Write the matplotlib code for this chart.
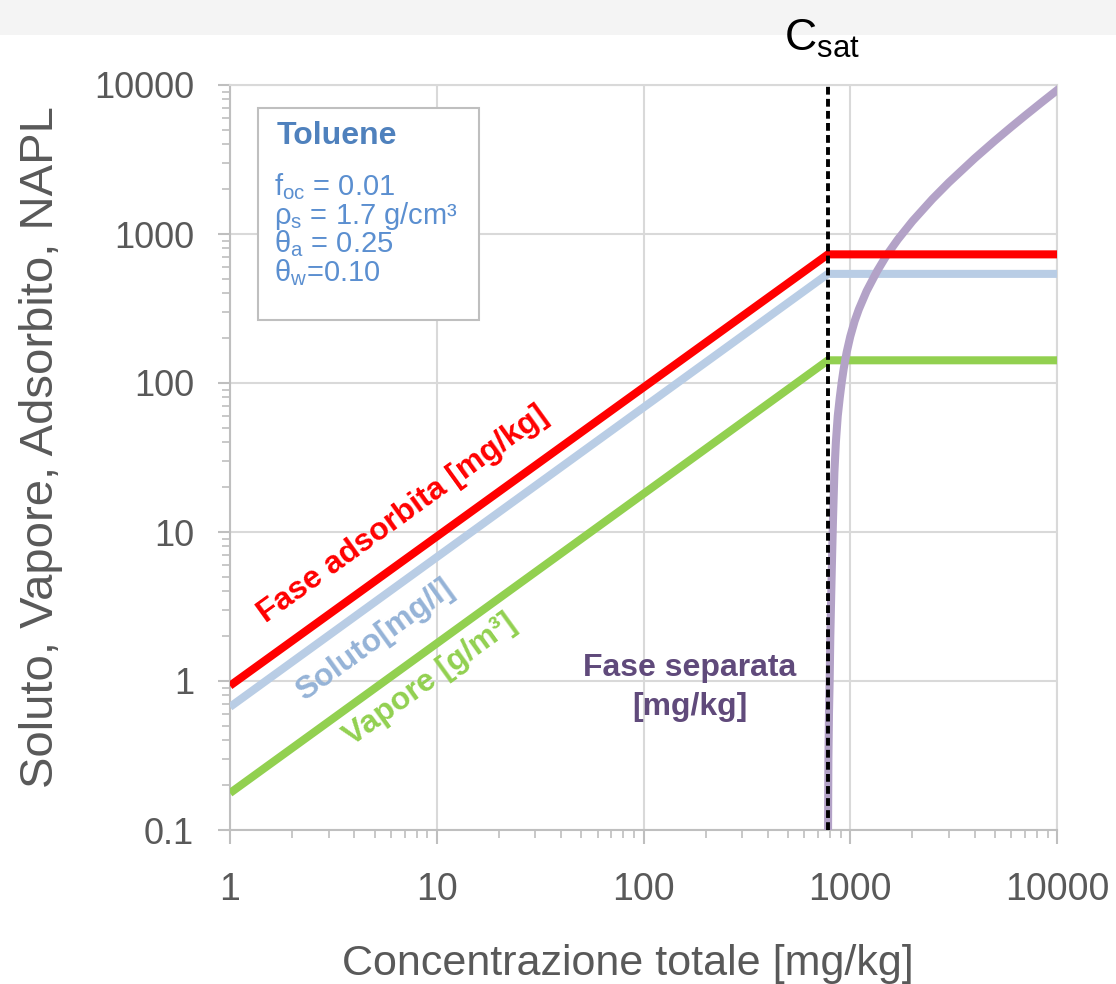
import numpy as np
import matplotlib
matplotlib.use("Agg")
import matplotlib.pyplot as plt
from matplotlib.patches import Rectangle

plt.rcParams['font.family'] = ['Liberation Sans', 'DejaVu Sans']
plt.rcParams['mathtext.fontset'] = 'custom'
plt.rcParams['mathtext.rm'] = 'Liberation Sans'
plt.rcParams['mathtext.it'] = 'Liberation Sans'

# Concentrazione di saturazione (mg/kg)
c_sat = 780

# Fasi in equilibrio
conc = [1, c_sat, 10000]
adsorbita = [0.93, 730, 730]
soluto = [0.67, 540, 540]
vapore = [0.177, 142, 142]

# Fase separata (NAPL)
napl_x = [781, 784, 789, 795, 801, 806, 815, 825, 838, 852, 870, 890, 910, 930, 960, 1000,
          1050, 1100, 1200, 1350, 1500, 1700, 2000, 2500, 3000, 4000, 5000, 6000, 7000, 8500, 10000]
napl_y = [0.1, 0.3, 0.6, 1, 2, 3, 6, 12, 25, 40, 60, 80, 102, 125, 160, 205,
          260, 312, 414, 565, 720, 920, 1220, 1720, 2220, 3220, 4220, 5220, 6220, 7720, 9220]

fig = plt.figure(figsize=(11.16, 9.84), dpi=100)
# fascia grigia in alto
fig.patches.append(Rectangle((0, 1 - 35 / 984), 1, 35 / 984, transform=fig.transFigure,
                             facecolor='#f4f4f4', edgecolor='none', zorder=-10))
ax = fig.add_axes([230 / 1116, 154 / 984, 827 / 1116, 745 / 984])

ax.set_xscale('log')
ax.set_yscale('log')
ax.set_xlim(1, 10000)
ax.set_ylim(0.1, 10000)

ax.grid(True, which='major', color='#d9d9d9', linewidth=1.5)
for s in ax.spines.values():
    s.set_color('#d9d9d9')
    s.set_linewidth(1.5)
ax.spines['left'].set_color('#bfbfbf')
ax.spines['bottom'].set_color('#bfbfbf')

ax.plot(conc, adsorbita, color='#ff0000', lw=5.8, solid_capstyle='butt', zorder=4)
ax.plot(conc, soluto, color='#b9cde5', lw=5.8, solid_capstyle='butt', zorder=3)
ax.plot(conc, vapore, color='#92d050', lw=5.8, solid_capstyle='butt', zorder=3)
ax.plot(napl_x, napl_y, color='#b3a2c7', lw=5.8, zorder=3)
ax.axvline(c_sat, color='black', lw=2.8, ls=(0, (2.0, 1.1)), zorder=5)

ax.set_xticks([1, 10, 100, 1000, 10000])
ax.set_xticklabels(['1', '10', '100', '1000', '10000'])
ax.set_yticks([0.1, 1, 10, 100, 1000, 10000])
ax.set_yticklabels(['0.1', '1', '10', '100', '1000', '10000'])
ax.tick_params(axis='both', which='major', colors='#bfbfbf', labelcolor='#595959', width=1.5)
ax.tick_params(axis='x', which='major', length=10, pad=20, labelsize=27)
ax.tick_params(axis='y', which='major', length=9, pad=17, labelsize=26)
ax.tick_params(axis='both', which='minor', colors='#bfbfbf', length=6, width=1.2)
ax.tick_params(axis='both', which='minor', labelleft=False, labelbottom=False)

ax.set_xlabel('Concentrazione totale [mg/kg]', fontsize=31, color='#595959', labelpad=26)
ax.set_ylabel('Soluto, Vapore, Adsorbito, NAPL', fontsize=34, color='#595959', labelpad=22)
ax.xaxis.label.set_x((628 - 230) / 827)
ax.yaxis.label.set_y((830 - 447) / 745)

# riquadro parametri
box = Rectangle(((258 - 230) / 827, (830 - 320) / 745), 221 / 827, 212 / 745,
                transform=ax.transAxes, facecolor='white', edgecolor='#bfbfbf', lw=1.5, zorder=6)
ax.add_patch(box)
ax.text((277 - 230) / 827, (830 - 136) / 745, 'Toluene', transform=ax.transAxes,
        fontsize=23, fontweight='bold', color='#4f81bd', va='center', ha='left', zorder=7)
params = [r'f$_{\mathrm{oc}}$ = 0.01', r'ρ$_{\mathrm{s}}$ = 1.7 g/cm³',
          r'θ$_{\mathrm{a}}$ = 0.25', r'θ$_{\mathrm{w}}$=0.10']
for i, p in enumerate(params):
    ax.text((274 - 230) / 827, (830 - 187 - i * 28.5) / 745, p, transform=ax.transAxes,
            fontsize=21, color='#5b8fd0', va='center', ha='left', zorder=7)

# etichette delle curve
lab = dict(fontweight='bold', rotation=35.8, rotation_mode='anchor', ha='center', va='center',
           zorder=7)
ax.text(6.9, 13.0, 'Fase adsorbita [mg/kg]', color='#ff0000', fontsize=23, **lab)
ax.text(5.0, 1.88, 'Soluto[mg/l]', color='#95b3d7', fontsize=23, **lab)
ax.text(9.3, 1.02, 'Vapore [g/m³]', color='#92d050', fontsize=23, **lab)
ax.text(168, 0.9, 'Fase separata\n[mg/kg]', color='#604a7b', fontsize=23, fontweight='bold',
        ha='center', va='center', linespacing=1.4, zorder=7)

ax.text(c_sat * 10 ** (-6 / 206.75), 1.062, r'C$_{\mathrm{sat}}$', transform=ax.get_xaxis_transform(),
        fontsize=32, color='black', ha='center', va='center', clip_on=False, zorder=10)

fig.savefig('out.png', dpi=100)
